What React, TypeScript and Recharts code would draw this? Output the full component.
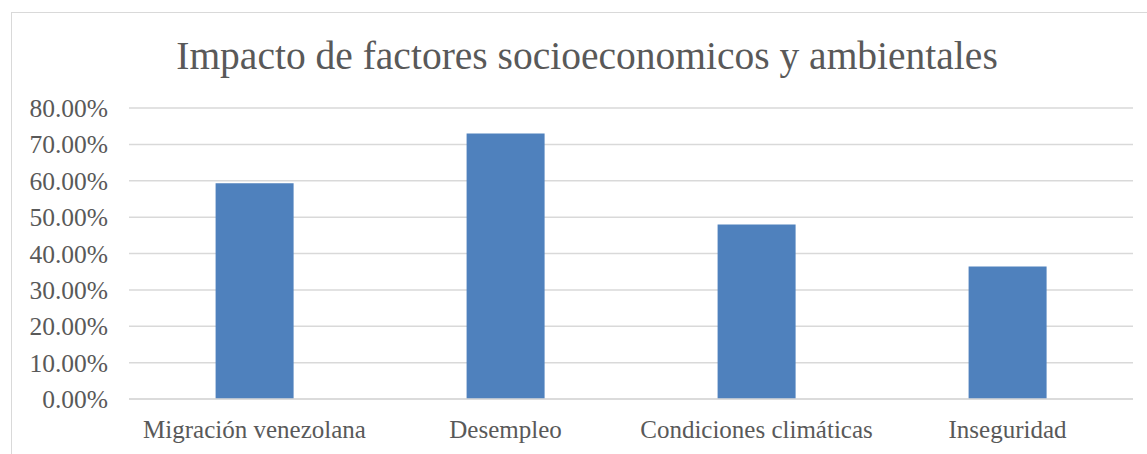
import { BarChart, Bar, CartesianGrid, XAxis, YAxis } from "recharts";

const categories = ["Migración venezolana", "Desempleo", "Condiciones climáticas", "Inseguridad"];
const impacto = [0.593, 0.73, 0.48, 0.364];
const yTicks = [0, 0.1, 0.2, 0.3, 0.4, 0.5, 0.6, 0.7, 0.8];

const data = categories.map((name, i) => ({ name, value: impacto[i] }));

const font = "'Liberation Serif', serif";
const textColor = "#595959";

export default function App() {
  return (
    <div
      style={{
        position: "fixed",
        left: 0,
        top: 0,
        width: 1147,
        height: 454,
        overflow: "hidden",
        background: "#fff",
        fontFamily: font,
      }}
    >
      {/* chart frame, only top and left edges are visible */}
      <div
        style={{
          position: "absolute",
          left: 11,
          top: 12,
          width: 1200,
          height: 500,
          border: "1.5px solid #d9d9d9",
        }}
      />
      <div
        style={{
          position: "absolute",
          left: 0,
          width: 1174,
          top: 34,
          textAlign: "center",
          fontSize: 39.5,
          color: textColor,
          lineHeight: "44px",
        }}
      >
        Impacto de factores socioeconomicos y ambientales
      </div>
      <div style={{ position: "absolute", left: 0, top: 0 }}>
        <BarChart
          width={1147}
          height={454}
          data={data}
          margin={{ top: 108, right: 14, left: 0, bottom: 0 }}
          barCategoryGap="34.5%"
        >
          <CartesianGrid vertical={false} stroke="#d9d9d9" strokeWidth={1.5} />
          <XAxis
            dataKey="name"
            height={55}
            axisLine={{ stroke: "#d9d9d9", strokeWidth: 1.5 }}
            tickLine={false}
            tickSize={0}
            tickMargin={21}
            interval={0}
            tick={{ fill: textColor, fontSize: 25, fontFamily: font }}
          />
          <YAxis
            width={129}
            domain={[0, 0.8]}
            ticks={yTicks}
            axisLine={false}
            tickLine={false}
            tickSize={0}
            tickMargin={21}
            tickFormatter={(v: number) => (v * 100).toFixed(2) + "%"}
            tick={{ fill: textColor, fontSize: 25.5, fontFamily: font }}
          />
          <Bar dataKey="value" fill="#4f81bd" isAnimationActive={false} />
        </BarChart>
      </div>
    </div>
  );
}
